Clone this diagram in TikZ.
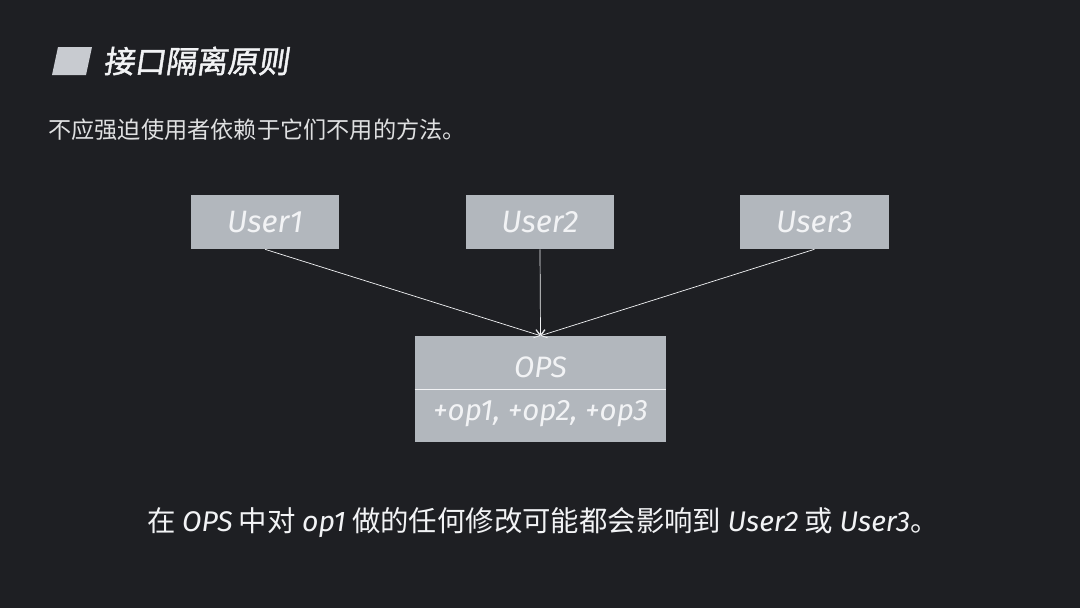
\documentclass[tikz,border=0pt]{standalone}
\usepackage{fontspec}
\setmainfont{Noto Sans CJK SC}
\newfontfamily\cjkhead{Noto Sans CJK SC}[FakeSlant=0.15,FakeBold=1.5]
\newfontfamily\latn{Fira Sans}
\usetikzlibrary{arrows.meta}
\definecolor{slideBg}{RGB}{30,31,35}
\definecolor{boxG}{RGB}{178,183,189}
\definecolor{markG}{RGB}{200,203,208}
\definecolor{txtW}{RGB}{242,243,245}
\newcommand{\lt}[1]{{\latn\itshape #1}}
\tikzset{
  userbox/.style={fill=boxG, minimum width=3.7cm, minimum height=1.35cm, inner sep=0pt,
    text=txtW, font=\latn\itshape\fontsize{22}{24}\selectfont},
  opsbox/.style={fill=boxG, minimum width=6.275cm, minimum height=2.65cm, inner sep=0pt},
  opstext/.style={text=txtW, inner sep=0pt, font=\latn\itshape\fontsize{21}{23}\selectfont},
  uses/.style={draw=txtW, line width=0.5pt, -{Straight Barb[length=4pt,width=6pt]}}
}
\begin{document}
\begin{tikzpicture}[x=0.025cm, y=-0.025cm]
% background
\fill[slideBg] (0,0) rectangle (1080,608);
\useasboundingbox (0,0) rectangle (1080,608);
% heading
\fill[markG] (58,47) -- (92,47) -- (86,75) -- (52,75) -- cycle;
\node[anchor=west, inner sep=0pt, text=txtW, font=\cjkhead\fontsize{22}{24}\selectfont] (title) at (103,61) {接口隔离原则};
\node[anchor=west, inner sep=0pt, text=txtW!92!black, font=\fontsize{16.5}{18}\selectfont] (lead) at (48,130) {不应强迫使用者依赖于它们不用的方法。};
% users
\node[userbox] (u1) at (265,222) {User1};
\node[userbox] (u2) at (540,222) {User2};
\node[userbox] (u3) at (814.5,222) {User3};
% interface
\node[opsbox] (ops) at (540.5,389) {};
\draw[txtW, line width=0.6pt] (ops.west) -- (ops.east);
\node[opstext] (opsname) at (540.5,367) {OPS};
\node[opstext] (opslist) at (540.5,414) {+op1, +op2, +op3};
% dependencies
\draw[uses] (u1.south) -- (ops.north);
\draw[uses] (u2.south) -- (ops.north);
\draw[uses] (u3.south) -- (ops.north);
% note
\node[anchor=west, inner sep=0pt, text=txtW, font=\fontsize{20.2}{22}\selectfont] (note) at (147,523)
  {在 \lt{OPS} 中对 \lt{op1} 做的任何修改可能都会影响到 \lt{User2} 或 \lt{User3}。};
\end{tikzpicture}
\end{document}
